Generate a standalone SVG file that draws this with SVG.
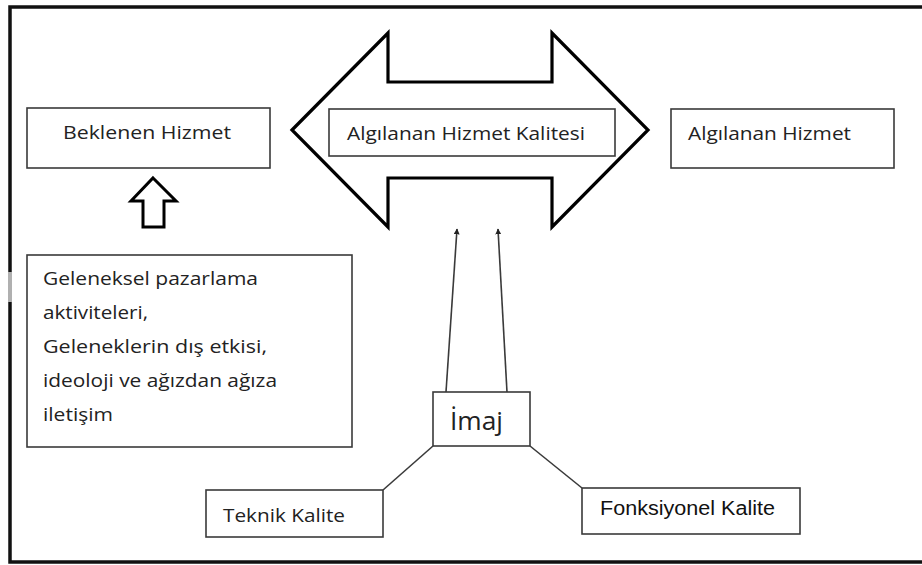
<svg xmlns="http://www.w3.org/2000/svg" width="922" height="565" viewBox="0 0 922 565">
<defs>
<style>
.box{fill:#fff;stroke:#3a3a3a;stroke-width:1.6}
.t{font-family:"Open Sans","Liberation Sans",Arial,sans-serif;font-size:19px;fill:#222}
.a{font-family:"Liberation Sans",Arial,sans-serif;font-size:20px;fill:#111}
.ln{fill:none;stroke:#3a3a3a;stroke-width:1.6}
.big{fill:#fff;stroke:#000;stroke-width:3.2;stroke-linejoin:miter}
</style>
<marker id="ah" viewBox="0 0 10 10" refX="9" refY="5" markerWidth="6" markerHeight="6" orient="auto" markerUnits="userSpaceOnUse">
<path d="M0,0 L10,5 L0,10 z" fill="#222"/>
</marker>
</defs>
<rect x="0" y="0" width="922" height="565" fill="#fff"/>
<g id="frame">
<rect x="10" y="7" width="1000" height="555" fill="none" stroke="#111" stroke-width="3.5"/>
<rect x="8" y="272" width="4" height="30" fill="#b0b0b0"/>
</g>
<g id="kalite-arrow">
<path class="big" d="M292,130 L388,33 L388,82 L552,82 L552,33 L648,130 L552,227 L552,178 L388,178 L388,227 Z"/>
</g>
<g id="algilanan-hizmet-kalitesi">
<rect class="box" x="329" y="109" width="286" height="47"/>
<text class="t" x="347" y="140" textLength="238" lengthAdjust="spacingAndGlyphs">Algılanan Hizmet Kalitesi</text>
</g>
<g id="beklenen-hizmet">
<rect class="box" x="27" y="108" width="243" height="60"/>
<text class="t" x="63" y="139" textLength="168" lengthAdjust="spacingAndGlyphs">Beklenen Hizmet</text>
</g>
<g id="algilanan-hizmet">
<rect class="box" x="671" y="109" width="223" height="59"/>
<text class="t" x="688" y="140" textLength="163" lengthAdjust="spacingAndGlyphs">Algılanan Hizmet</text>
</g>
<g id="up-arrow">
<path d="M153,178 L176,201 L164,201 L164,227 L143,227 L143,201 L131,201 Z" fill="#fff" stroke="#000" stroke-width="3"/>
</g>
<g id="geleneksel">
<rect class="box" x="27" y="255" width="325" height="192"/>
<text class="t" x="43" y="285" textLength="215" lengthAdjust="spacingAndGlyphs">Geleneksel pazarlama</text>
<text class="t" x="43" y="319" textLength="105" lengthAdjust="spacingAndGlyphs">aktiviteleri,</text>
<text class="t" x="43" y="353" textLength="224" lengthAdjust="spacingAndGlyphs">Geleneklerin dış etkisi,</text>
<text class="t" x="43" y="387" textLength="234" lengthAdjust="spacingAndGlyphs">ideoloji ve ağızdan ağıza</text>
<text class="t" x="43" y="421" textLength="70" lengthAdjust="spacingAndGlyphs">iletişim</text>
</g>
<g id="connectors">
<line class="ln" x1="446" y1="392" x2="457" y2="229" marker-end="url(#ah)"/>
<line class="ln" x1="507" y1="392" x2="498" y2="229" marker-end="url(#ah)"/>
<line class="ln" x1="433" y1="446" x2="383" y2="490"/>
<line class="ln" x1="530" y1="446" x2="582" y2="488"/>
</g>
<g id="imaj">
<rect class="box" x="433" y="392" width="97" height="54"/>
<text class="t" x="450" y="430" style="font-size:25px" textLength="53" lengthAdjust="spacingAndGlyphs">İmaj</text>
</g>
<g id="teknik-kalite">
<rect class="box" x="206" y="490" width="177" height="47"/>
<text class="t" x="223" y="522" textLength="122" lengthAdjust="spacingAndGlyphs">Teknik Kalite</text>
</g>
<g id="fonksiyonel-kalite">
<rect class="box" x="582" y="488" width="218" height="46"/>
<text class="a" x="600" y="515" textLength="175" lengthAdjust="spacingAndGlyphs">Fonksiyonel Kalite</text>
</g>
</svg>
